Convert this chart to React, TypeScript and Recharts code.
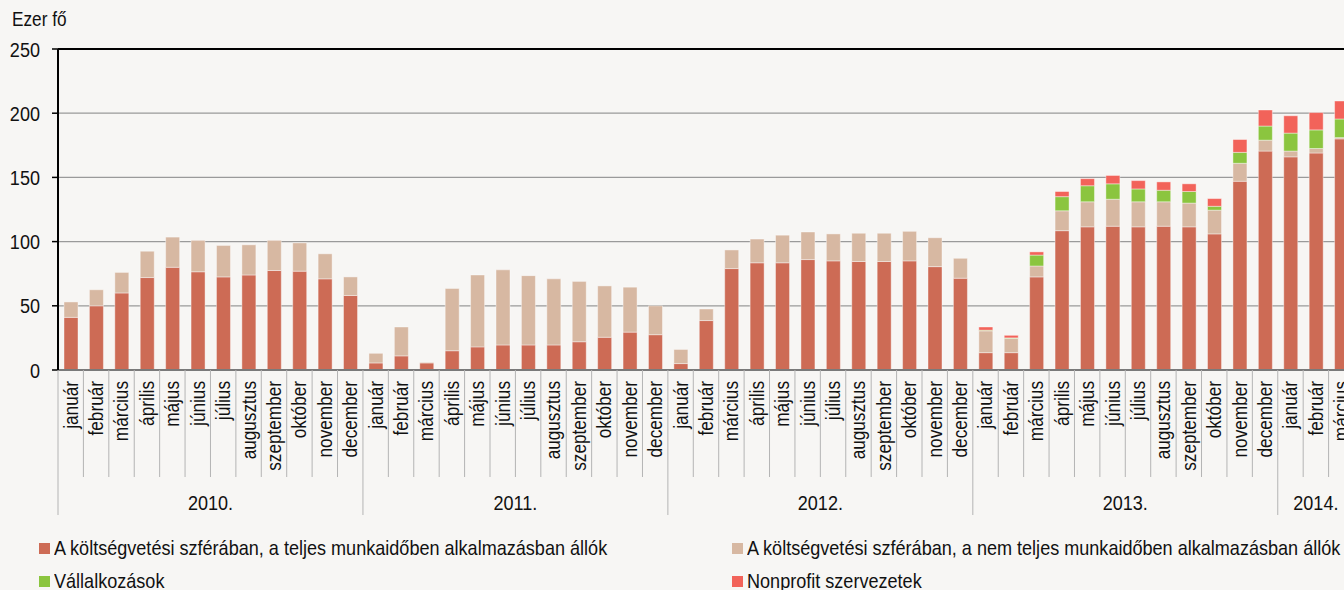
import React from 'react';
import { BarChart, Bar, XAxis, YAxis, CartesianGrid, ReferenceLine } from 'recharts';

const FONT = '"Liberation Sans", Arial, sans-serif';
// the original uses a narrow face; squeeze the regular one horizontally
const SQUEEZE = 0.86;

// Month names and year labels of the two-level category axis
const monthNames = ['január', 'február', 'március', 'április', 'május', 'június', 'július', 'augusztus', 'szeptember', 'október', 'november', 'december'];
const yearLabels = ['2010.', '2011.', '2012.', '2013.', '2014.'];
const monthsPerYear = [12, 12, 12, 12, 3];

// Values in thousand persons (Ezer fő), Jan 2010 - Mar 2014
const fullTime = [
  41, 50, 60, 72, 80, 76.5, 72.5, 74, 77.5, 77, 71, 58,
  5.5, 11, 5.5, 15, 18, 19.5, 19.5, 19.5, 22, 25.5, 29.5, 27.5,
  5, 38.5, 79, 83.5, 83.5, 86, 85, 84.5, 84.5, 85, 80.5, 71.5,
  13.5, 13.5, 72.5, 108.5, 111.5, 112, 111.5, 112, 111.5, 106, 147, 170.5,
  166, 169, 180,
];
const partTime = [
  12, 12.5, 16, 20.5, 23.5, 24.5, 24.5, 23.5, 23.5, 22, 19.5, 14.5,
  7.5, 22.5, 0.5, 48.5, 56, 58.5, 54, 51.5, 47, 40, 35, 22.5,
  11, 9, 14.5, 18.5, 21.5, 21.5, 21, 22, 22, 23, 22.5, 15.5,
  17, 11, 8.5, 15.5, 19.5, 21, 19.5, 19, 18.5, 18.5, 14, 8.5,
  4.5, 3.5, 1,
];
const business = [
  null, null, null, null, null, null, null, null, null, null, null, null,
  null, null, null, null, null, null, null, null, null, null, null, null,
  null, null, null, null, null, null, null, null, null, null, null, null,
  0.5, 0.5, 8.5, 11, 12.5, 12, 10, 9, 9, 3, 8.5, 11,
  14, 14.5, 14.5,
];
const nonprofit = [
  null, null, null, null, null, null, null, null, null, null, null, null,
  null, null, null, null, null, null, null, null, null, null, null, null,
  null, null, null, null, null, null, null, null, null, null, null, null,
  2.5, 2, 2.5, 4, 5.5, 6.5, 6.5, 6.5, 6, 6, 10, 12.5,
  13.5, 13.5, 14,
];

const yTicks = [0, 50, 100, 150, 200, 250];

const seriesNames = [
  'A költségvetési szférában, a teljes munkaidőben alkalmazásban állók',
  'A költségvetési szférában, a nem teljes munkaidőben alkalmazásban állók',
  'Vállalkozások',
  'Nonprofit szervezetek',
];
const colors = ['#CD6B55', '#D7B8A2', '#8BC53F', '#F2635A'];

// build categories
const categories: { key: string; month: string; yearIdx: number; monthIdx: number }[] = [];
yearLabels.forEach((y, yi) => {
  for (let m = 0; m < monthsPerYear[yi]; m++) {
    categories.push({ key: `${y}-${monthNames[m]}`, month: monthNames[m], yearIdx: yi, monthIdx: m });
  }
});

const data = categories.map((c, i) => ({
  key: c.key,
  ft: fullTime[i],
  pt: partTime[i],
  biz: business[i],
  np: nonprofit[i],
}));

const CHART_W = 1354;
const CHART_H = 590;
const Y_AXIS_W = 58;
const PLOT_TOP = 49;
const PLOT_BOTTOM = 370;
const BAND = (CHART_W - Y_AXIS_W) / categories.length;

const MonthTick = (props: any) => {
  const { x, payload } = props;
  const cat = categories.find((c) => c.key === payload.value);
  if (!cat) return null;
  const left = x - BAND / 2;
  const isYearStart = cat.monthIdx === 0;
  const yearCount = monthsPerYear[cat.yearIdx];
  return (
    <g>
      <line
        x1={left}
        x2={left}
        y1={PLOT_BOTTOM}
        y2={isYearStart ? 515 : 477}
        stroke="#b4b4b4"
        strokeWidth={1}
      />
      <text
        transform={`translate(${x},381) rotate(-90) scale(${SQUEEZE},1)`}
        textAnchor="end"
        dominantBaseline="central"
        fontSize={20}
        fill="#111"
      >
        {cat.month}
      </text>
      {isYearStart && (
        <text
          transform={`translate(${left + (yearCount * BAND) / 2},502) scale(${SQUEEZE},1)`}
          textAnchor="middle"
          dominantBaseline="central"
          fontSize={21}
          fill="#111"
        >
          {yearLabels[cat.yearIdx]}
        </text>
      )}
    </g>
  );
};

const ValueTick = (props: any) => {
  const { x, y, payload } = props;
  return (
    <text
      transform={`translate(${x},${y}) scale(${SQUEEZE},1)`}
      textAnchor="end"
      dominantBaseline="central"
      fontSize={21}
      fill="#111"
    >
      {payload.value}
    </text>
  );
};

const legendItems = [
  { left: 39, top: 538, i: 0 },
  { left: 732, top: 538, i: 1 },
  { left: 39, top: 571, i: 2 },
  { left: 732, top: 571, i: 3 },
];

export default function App() {
  return (
    <div
      style={{
        position: 'absolute',
        left: 0,
        top: 0,
        width: 1344,
        height: 590,
        overflow: 'hidden',
        background: '#F7F6F4',
        fontFamily: FONT,
      }}
    >
      <div
        style={{
          position: 'absolute',
          left: 12,
          top: 8,
          fontSize: 20,
          color: '#111',
          transform: `scaleX(${SQUEEZE})`,
          transformOrigin: 'left center',
          whiteSpace: 'nowrap',
        }}
      >
        Ezer fő
      </div>
      <BarChart
        width={CHART_W}
        height={CHART_H}
        data={data}
        margin={{ top: PLOT_TOP, right: 0, bottom: 0, left: 0 }}
        barSize={14}
        style={{ fontFamily: FONT }}
      >
        <CartesianGrid vertical={false} stroke="#9a9a9a" strokeWidth={1.2} />
        <XAxis
          dataKey="key"
          interval={0}
          tickLine={false}
          height={CHART_H - PLOT_BOTTOM}
          axisLine={{ stroke: '#7a7a7a', strokeWidth: 2 }}
          tick={<MonthTick />}
        />
        <YAxis
          width={Y_AXIS_W}
          domain={[0, 250]}
          ticks={yTicks}
          interval={0}
          tickSize={6}
          tickMargin={12}
          axisLine={{ stroke: '#000', strokeWidth: 2 }}
          tickLine={{ stroke: '#000', strokeWidth: 1.5 }}
          tick={<ValueTick />}
        />
        <ReferenceLine y={250} stroke="#000" strokeWidth={2} />
        <Bar dataKey="ft" stackId="a" fill={colors[0]} stroke="#fff" strokeOpacity={0.4} isAnimationActive={false} />
        <Bar dataKey="pt" stackId="a" fill={colors[1]} stroke="#fff" strokeOpacity={0.4} isAnimationActive={false} />
        <Bar dataKey="biz" stackId="a" fill={colors[2]} stroke="#fff" strokeOpacity={0.4} isAnimationActive={false} />
        <Bar dataKey="np" stackId="a" fill={colors[3]} stroke="#fff" strokeOpacity={0.4} isAnimationActive={false} />
      </BarChart>
      {legendItems.map((it) => (
        <div
          key={it.i}
          style={{
            position: 'absolute',
            left: it.left,
            top: it.top,
            display: 'flex',
            alignItems: 'center',
            fontSize: 21,
            color: '#111',
            whiteSpace: 'nowrap',
            lineHeight: '20px',
          }}
        >
          <span style={{ display: 'inline-block', width: 11, height: 11, background: colors[it.i], marginRight: 4 }} />
          <span style={{ display: 'inline-block', transform: `scaleX(${SQUEEZE})`, transformOrigin: 'left center' }}>
            {seriesNames[it.i]}
          </span>
        </div>
      ))}
    </div>
  );
}
